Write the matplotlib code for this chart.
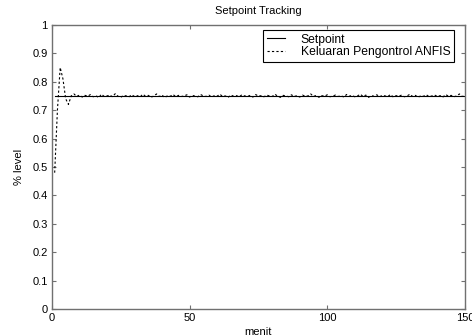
import matplotlib
matplotlib.use("Agg")
import matplotlib.pyplot as plt

plt.rcParams['font.family'] = ['Liberation Sans', 'DejaVu Sans']

# time in minutes
waktu = list(range(1, 151))

# setpoint
setpoint = [0.75] * len(waktu)

# keluaran pengontrol ANFIS
keluaran = [0.48, 0.70, 0.85, 0.81, 0.74, 0.72, 0.75, 0.757, 0.748, 0.753,
            0.746, 0.752, 0.749, 0.755, 0.747, 0.751, 0.744, 0.756, 0.748, 0.750,
            0.753, 0.747, 0.758, 0.749, 0.745, 0.752, 0.750, 0.747, 0.754, 0.748,
            0.751, 0.746, 0.756, 0.749, 0.752, 0.745, 0.750, 0.757, 0.748, 0.753,
            0.744, 0.751, 0.749, 0.755, 0.747, 0.752, 0.748, 0.750, 0.754, 0.746,
            0.752, 0.749, 0.747, 0.755, 0.750, 0.748, 0.753, 0.746, 0.751, 0.749,
            0.756, 0.748, 0.750, 0.745, 0.753, 0.749, 0.751, 0.747, 0.754, 0.750,
            0.748, 0.752, 0.746, 0.755, 0.749, 0.751, 0.747, 0.753, 0.750, 0.748,
            0.756, 0.749, 0.745, 0.752, 0.750, 0.747, 0.754, 0.748, 0.751, 0.746,
            0.753, 0.749, 0.750, 0.757, 0.748, 0.752, 0.745, 0.751, 0.749, 0.754,
            0.747, 0.750, 0.753, 0.748, 0.751, 0.746, 0.755, 0.749, 0.752, 0.747,
            0.750, 0.756, 0.748, 0.753, 0.745, 0.751, 0.749, 0.754, 0.747, 0.752,
            0.750, 0.748, 0.755, 0.746, 0.751, 0.749, 0.753, 0.747, 0.750, 0.756,
            0.748, 0.752, 0.745, 0.751, 0.749, 0.754, 0.747, 0.750, 0.753, 0.748,
            0.751, 0.746, 0.755, 0.749, 0.752, 0.747, 0.750, 0.757, 0.748, 0.751]

fig = plt.figure(figsize=(4.72, 3.36), dpi=100)
ax = fig.add_axes([0.110, 0.080, 0.875, 0.846])

ax.plot(waktu, setpoint, color='black', linewidth=0.8, label='Setpoint')
ax.plot(waktu, keluaran, color='black', linewidth=0.8, linestyle=(0, (2, 2)),
        label='Keluaran Pengontrol ANFIS')

ax.set_xlim(0, 150)
ax.set_ylim(0, 1)
ax.set_xticks([0, 50, 100, 150])
ax.set_yticks([i / 10 for i in range(11)])
ax.set_yticklabels(['0', '0.1', '0.2', '0.3', '0.4', '0.5', '0.6', '0.7', '0.8', '0.9', '1'])

for s in ax.spines.values():
    s.set_color('#707070')
    s.set_linewidth(1.0)
ax.tick_params(direction='in', length=3, width=0.8, color='#707070', labelsize=8,
               top=True, right=True, pad=3)

ax.set_title('Setpoint Tracking', fontsize=8, pad=8)
ax.set_xlabel('menit', fontsize=8, labelpad=3)
ax.set_ylabel('% level', fontsize=8, labelpad=6)

leg = ax.legend(loc='upper right', bbox_to_anchor=(0.973, 0.982), fontsize=8.7,
                fancybox=False, framealpha=1, edgecolor='black',
                handlelength=1.5, borderpad=0.3, labelspacing=0.05,
                borderaxespad=0, handletextpad=1.3)
leg.get_frame().set_linewidth(0.8)

fig.savefig('out.png', dpi=100)
